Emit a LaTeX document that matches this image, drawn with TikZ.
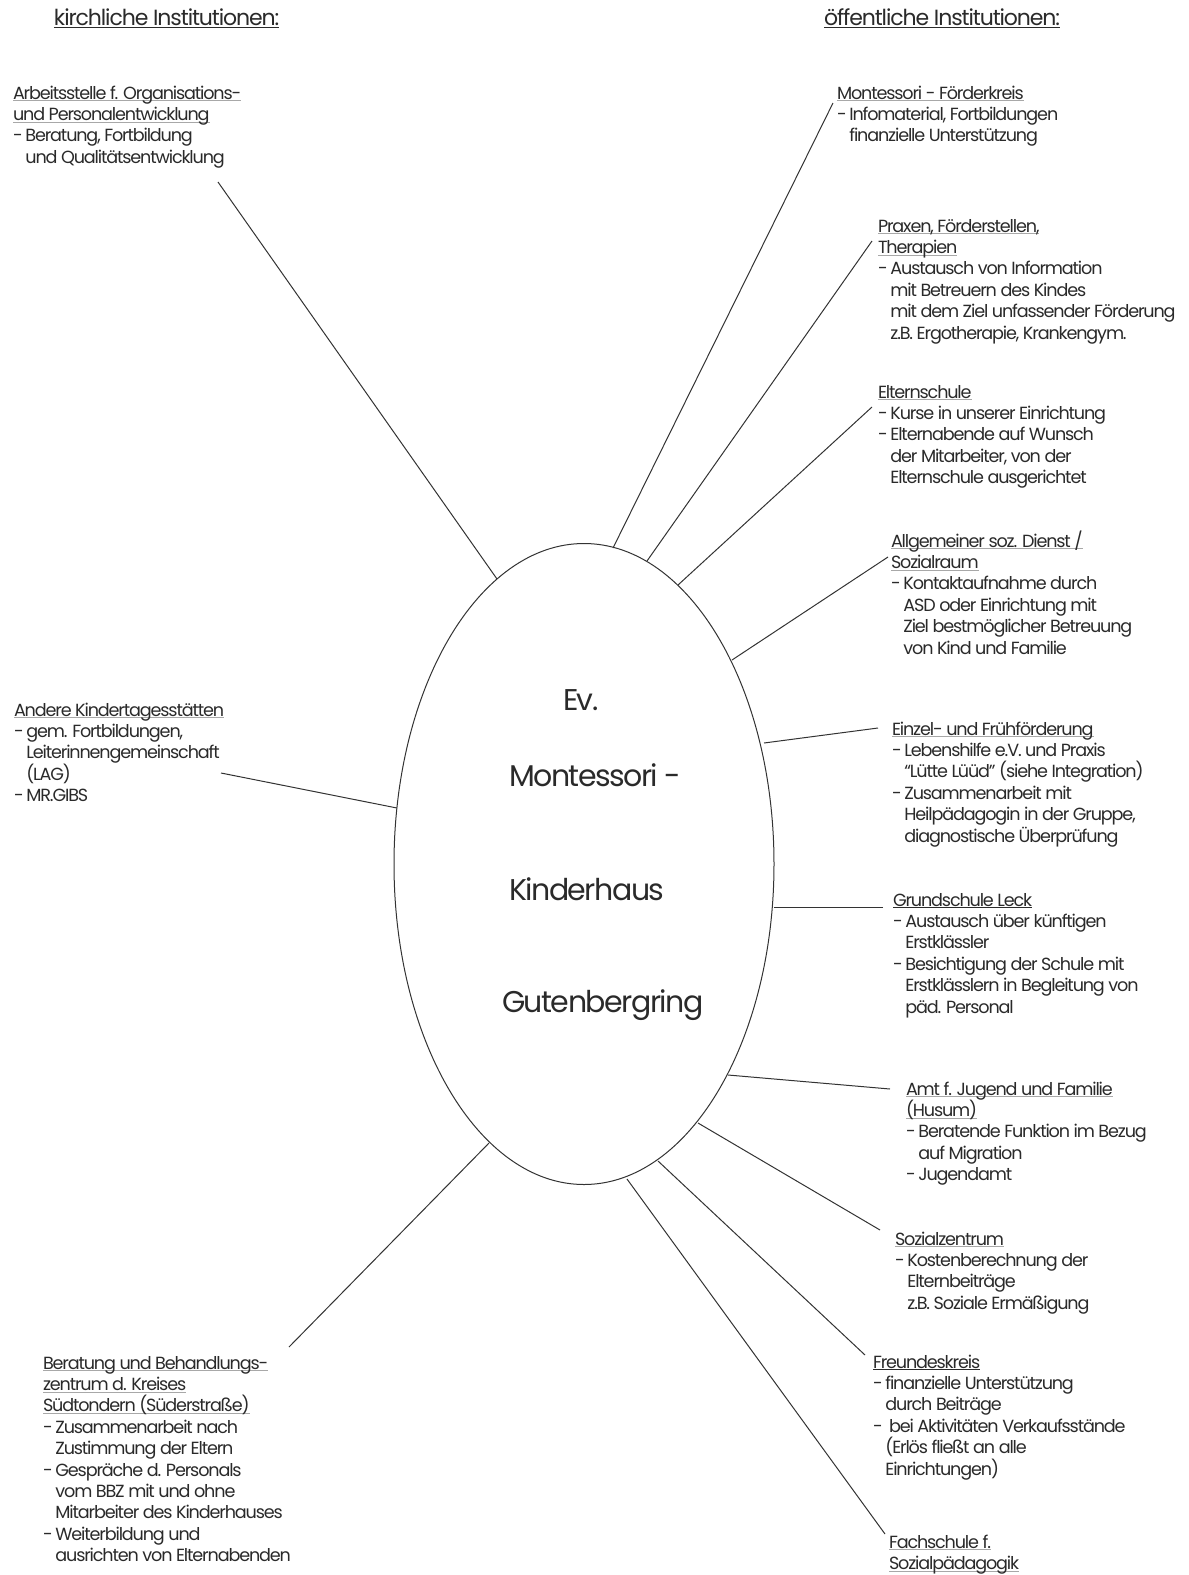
\documentclass[tikz,border=0pt]{standalone}
\usepackage{fontspec}
\usetikzlibrary{shapes.geometric}
\setmainfont{Poppins}[LetterSpace=-6.5]
\definecolor{txt}{HTML}{2A2A2A}
\definecolor{ulc}{HTML}{A8A8A8}
\definecolor{uld}{HTML}{2A2A2A}
\definecolor{linec}{HTML}{333333}
\newcommand\ulg[1]{\setbox0\hbox{#1}\rlap{\color{ulc}\rule[-1.1pt]{\wd0}{0.5pt}}\box0}
\newcommand\uldk[1]{\setbox0\hbox{#1}\rlap{\color{uld}\rule[-1.1pt]{\wd0}{0.6pt}}\box0}
\newcommand\ulh[1]{\setbox0\hbox{#1}\rlap{\color{uld}\rule[-1.7pt]{\wd0}{0.6pt}}\box0}
\newcommand\fs{\rule{0pt}{9pt}}
\newcommand\ind{\hspace*{6.2pt}}
\newcommand\dsh{\makebox[6.2pt][l]{-}}
\newcommand\dshw{\makebox[8pt][l]{-}}
\begin{document}
\begin{tikzpicture}[x=0.5pt,y=-0.5pt,
  every node/.style={inner sep=0pt,outer sep=0pt,text=txt},
  body/.style={anchor=north west,align=left,font={\fontsize{8.8}{10.7}\selectfont\lineskiplimit=-20pt}},
  headtext/.style={anchor=base west,font={\fontsize{11}{13}\selectfont\addfontfeatures{LetterSpace=-5}}},
  ctext/.style={anchor=base west,font={\fontsize{15}{18}\selectfont\addfontfeatures{LetterSpace=-5}}},
  conn/.style={draw=linec,line width=0.5pt}]
\useasboundingbox (0,0) rectangle (1189,1575);

% headers
\node[headtext] (hk) at (54,25) {\ulh{kirchliche Institutionen:}};
\node[headtext] (ho) at (824,25) {\ulh{öffentliche Institutionen:}};

% central ellipse
\node[draw=linec,line width=0.5pt,ellipse,minimum width=190pt,minimum height=320.5pt] (ell) at (584,864) {};
\node[ctext] (ev) at (563,710) {Ev.};
\node[ctext] (mon) at (509,786) {Montessori -};
\node[ctext] (kin) at (509,900) {Kinderhaus};
\node[ctext] (gut) at (502,1012) {Gutenbergring};

% left side
\node[body] (arb) at (13,81) {\fs\ulg{Arbeitsstelle f. Organisations-}\\\ulg{und Personalentwicklung}\\\dsh Beratung, Fortbildung\\\ind und Qualitätsentwicklung};
\node[body] (and) at (14,698) {\fs\ulg{Andere Kindertagesstätten}\\\dsh gem. Fortbildungen,\\\ind Leiterinnengemeinschaft\\\ind (LAG)\\\dsh MR.GIBS};
\node[body] (ber) at (43,1351) {\fs\ulg{Beratung und Behandlungs-}\\\ulg{zentrum d. Kreises}\\\ulg{Südtondern (Süderstraße)}\\\dsh Zusammenarbeit nach\\\ind Zustimmung der Eltern\\\dsh Gespräche d. Personals\\\ind vom BBZ mit und ohne\\\ind Mitarbeiter des Kinderhauses\\\dsh Weiterbildung und\\\ind ausrichten von Elternabenden};

% right side
\node[body] (mfk) at (837,81) {\fs\ulg{Montessori - Förderkreis}\\\dsh Infomaterial, Fortbildungen\\\ind finanzielle Unterstützung};
\node[body] (pra) at (878,214) {\fs\ulg{Praxen, Förderstellen,}\\\ulg{Therapien}\\\dsh Austausch von Information\\\ind mit Betreuern des Kindes\\\ind mit dem Ziel unfassender Förderung\\\ind z.B. Ergotherapie, Krankengym.};
\node[body] (elt) at (878,380) {\fs\ulg{Elternschule}\\\dsh Kurse in unserer Einrichtung\\\dsh Elternabende auf Wunsch\\\ind der Mitarbeiter, von der\\\ind Elternschule ausgerichtet};
\node[body] (asd) at (891,529) {\fs\ulg{Allgemeiner soz. Dienst /}\\\ulg{Sozialraum}\\\dsh Kontaktaufnahme durch\\\ind ASD oder Einrichtung mit\\\ind Ziel bestmöglicher Betreuung\\\ind von Kind und Familie};
\node[body] (ein) at (892,717) {\fs\ulg{Einzel- und Frühförderung}\\\dsh Lebenshilfe e.V. und Praxis\\\ind “Lütte Lüüd” (siehe Integration)\\\dsh Zusammenarbeit mit\\\ind Heilpädagogin in der Gruppe,\\\ind diagnostische Überprüfung};
\node[body] (gru) at (893,888) {\fs\uldk{Grundschule Leck}\\\dsh Austausch über künftigen\\\ind Erstklässler\\\dsh Besichtigung der Schule mit\\\ind Erstklässlern in Begleitung von\\\ind päd. Personal};
\node[body] (amt) at (906,1077) {\fs\ulg{Amt f. Jugend und Familie}\\\ulg{(Husum)}\\\dsh Beratende Funktion im Bezug\\\ind auf Migration\\\dsh Jugendamt};
\node[body] (soz) at (895,1227) {\fs\ulg{Sozialzentrum}\\\dsh Kostenberechnung der\\\ind Elternbeiträge\\\ind z.B. Soziale Ermäßigung};
\node[body] (fre) at (873,1350) {\fs\uldk{Freundeskreis}\\\dsh finanzielle Unterstützung\\\ind durch Beiträge\\\dshw bei Aktivitäten Verkaufsstände\\\ind (Erlös fließt an alle\\\ind Einrichtungen)};
\node[body] (fac) at (889,1530) {\fs\ulg{Fachschule f.}\\\ulg{Sozialpädagogik}};

% connector end points
\coordinate (arbA) at (218,182);  \coordinate (arbB) at (497,579);
\coordinate (andA) at (221,773);  \coordinate (andB) at (397,808);
\coordinate (berA) at (289,1347); \coordinate (berB) at (489,1143);
\coordinate (mfkA) at (833,103);  \coordinate (mfkB) at (613,548);
\coordinate (praA) at (872,241);  \coordinate (praB) at (647,561);
\coordinate (eltA) at (872,407);  \coordinate (eltB) at (678,585);
\coordinate (asdA) at (888,557);  \coordinate (asdB) at (732,660);
\coordinate (einA) at (878,728);  \coordinate (einB) at (764,743);
\coordinate (gruA) at (883,907);  \coordinate (gruB) at (774,907);
\coordinate (amtA) at (890,1089); \coordinate (amtB) at (728,1075);
\coordinate (sozA) at (880,1230); \coordinate (sozB) at (698,1123);
\coordinate (freA) at (865,1355); \coordinate (freB) at (658,1161);
\coordinate (facA) at (885,1534); \coordinate (facB) at (627,1179);

\foreach \n in {arb,and,ber,mfk,pra,elt,asd,ein,gru,amt,soz,fre,fac}
  \draw[conn] (\n A) -- (\n B);
\end{tikzpicture}
\end{document}
